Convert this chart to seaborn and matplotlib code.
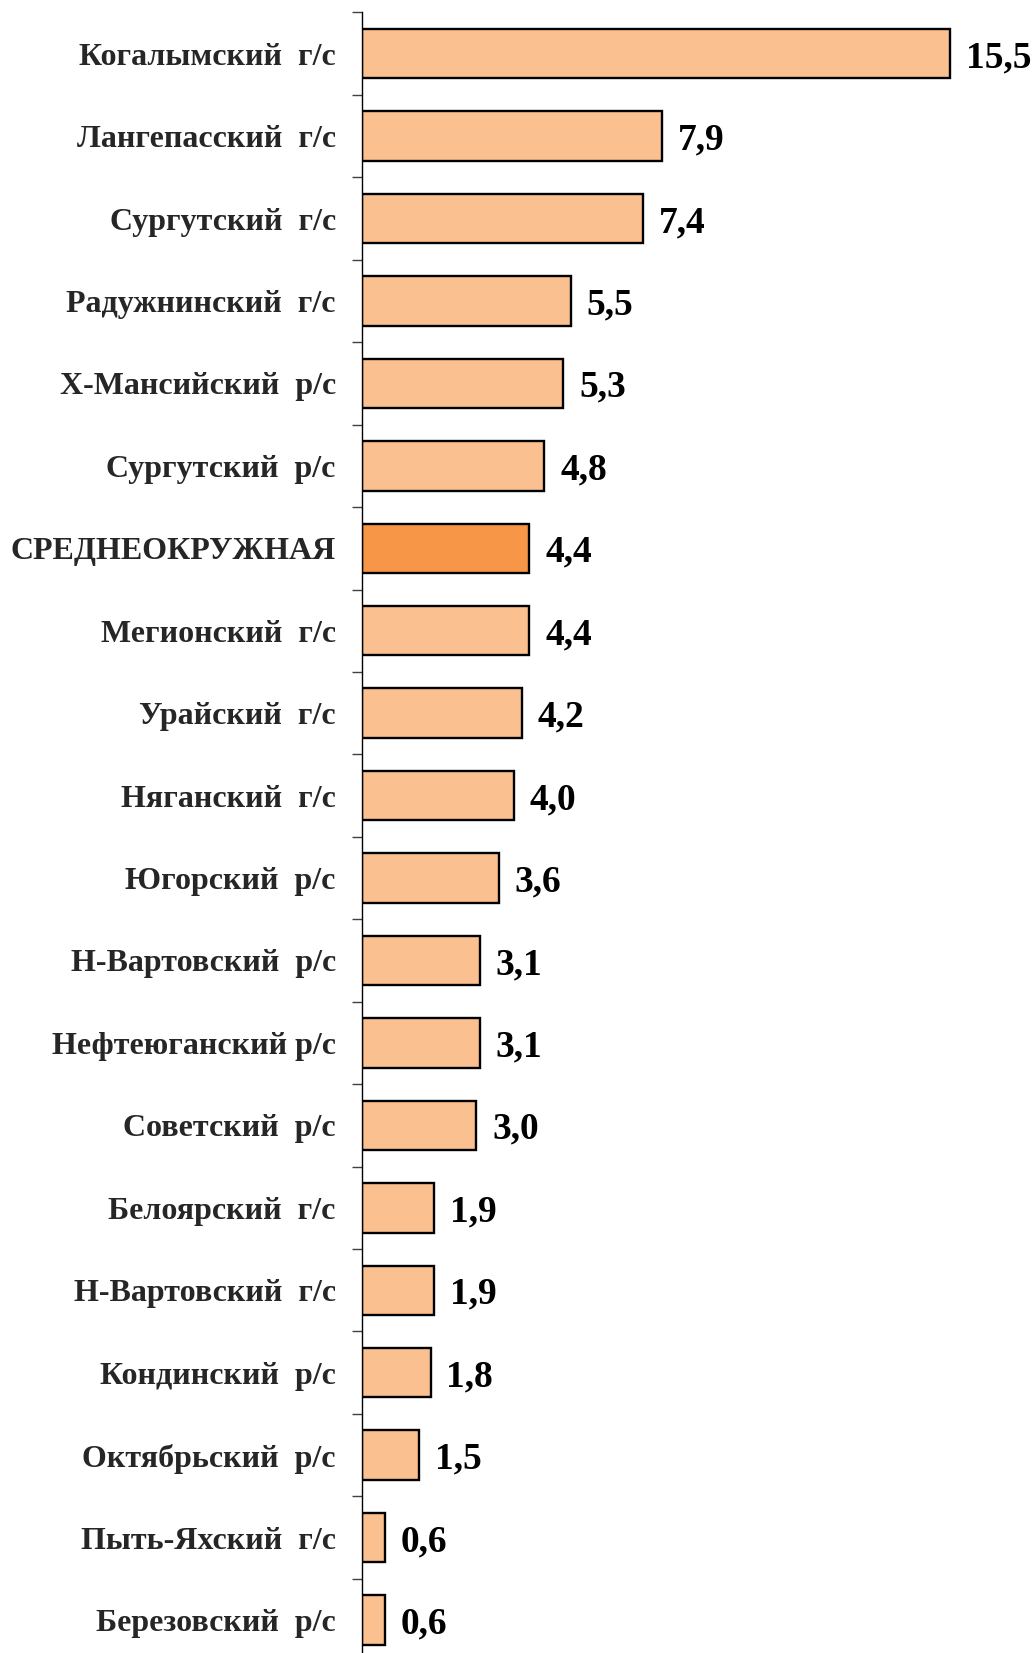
import matplotlib
matplotlib.use("Agg")
import matplotlib.pyplot as plt
import seaborn as sns
import pandas as pd
import numpy as np

categories = [
    "Когалымский  г/с",
    "Лангепасский  г/с",
    "Сургутский  г/с",
    "Радужнинский  г/с",
    "Х-Мансийский  р/с",
    "Сургутский  р/с",
    "СРЕДНЕОКРУЖНАЯ",
    "Мегионский  г/с",
    "Урайский  г/с",
    "Няганский  г/с",
    "Югорский  р/с",
    "Н-Вартовский  р/с",
    "Нефтеюганский р/с",
    "Советский  р/с",
    "Белоярский  г/с",
    "Н-Вартовский  г/с",
    "Кондинский  р/с",
    "Октябрьский  р/с",
    "Пыть-Яхский  г/с",
    "Березовский  р/с",
]
values = [15.5, 7.9, 7.4, 5.5, 5.3, 4.8, 4.4, 4.4, 4.2, 4.0,
          3.6, 3.1, 3.1, 3.0, 1.9, 1.9, 1.8, 1.5, 0.6, 0.6]
highlight = "СРЕДНЕОКРУЖНАЯ"

sns.set_theme(style="white")
plt.rcParams["font.family"] = ["Liberation Serif", "DejaVu Serif"]
plt.rcParams["font.weight"] = "bold"

df = pd.DataFrame({"name": categories, "value": values})
palette = {c: ("#F79646" if c == highlight else "#FAC08F") for c in categories}

fig = plt.figure(figsize=(10.35, 16.53), dpi=100)
ax = fig.add_axes([0.35, -0.005, 0.645, 0.9975])

sns.barplot(data=df, x="value", y="name", hue="name", palette=palette,
            legend=False, orient="h", width=0.6, edgecolor="black",
            linewidth=1.7, saturation=1, ax=ax)

ax.set_xlim(0, 17.6)
ax.set_ylim(len(categories) - 0.5, -0.5)
ax.set_xlabel("")
ax.set_ylabel("")
ax.set_xticks([])

for s in ["top", "right", "bottom"]:
    ax.spines[s].set_visible(False)
ax.spines["left"].set_color("black")
ax.spines["left"].set_linewidth(1.0)

# category names as major ticks without marks; boundary marks as minor ticks
ax.set_yticks(range(len(categories)))
ax.set_yticklabels(categories, fontsize=23, fontweight="bold")
ax.tick_params(axis="y", which="major", length=0, pad=19)
ax.set_yticks(np.arange(-0.5, len(categories), 1.0), minor=True)
ax.tick_params(axis="y", which="minor", length=7, width=1.0,
               color="#404040", left=True)

for i, v in enumerate(values):
    ax.text(v + 0.42, i, f"{v:.1f}".replace(".", ","), va="center_baseline",
            ha="left", fontsize=27, fontweight="bold", color="black")

fig.savefig("out.png", dpi=100)
